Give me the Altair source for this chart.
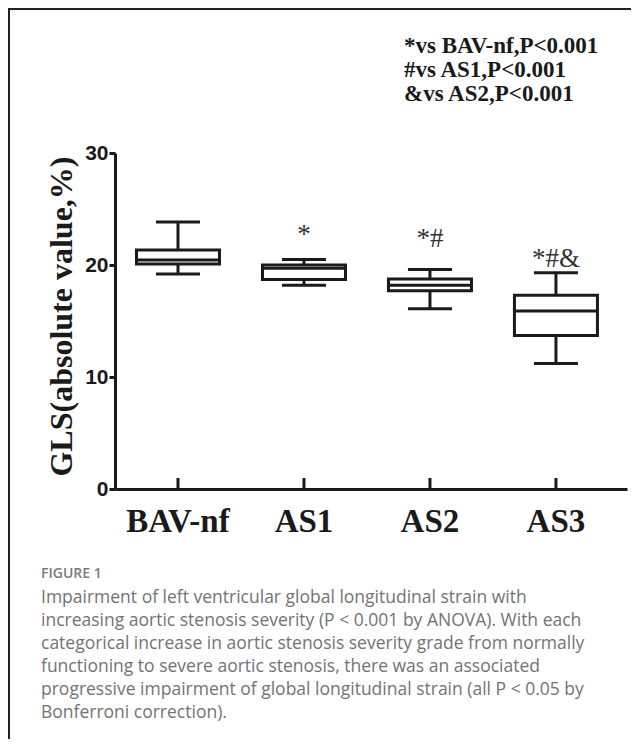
import altair as alt
import pandas as pd

# ---- data ----
categories = ["BAV-nf", "AS1", "AS2", "AS3"]
whisker_low = [19.2, 18.2, 16.1, 11.2]
q1 = [20.1, 18.7, 17.7, 13.7]
median = [20.45, 19.7, 18.2, 15.9]
q3 = [21.35, 20.0, 18.75, 17.3]
whisker_high = [23.85, 20.5, 19.6, 19.3]

annotation_groups = ["AS1", "AS2", "AS3"]
annotation_labels = ["*", "*#", "*#&"]
annotation_y = [22.0, 21.6, 19.8]

y_ticks = [0, 10, 20, 30]

legend_lines = ["*vs BAV-nf,P<0.001", "#vs AS1,P<0.001", "&vs AS2,P<0.001"]

figure_label = "FIGURE 1"
caption_lines = [
    "Impairment of left ventricular global longitudinal strain with",
    "increasing aortic stenosis severity (P < 0.001 by ANOVA). With each",
    "categorical increase in aortic stenosis severity grade from normally",
    "functioning to severe aortic stenosis, there was an associated",
    "progressive impairment of global longitudinal strain (all P < 0.05 by",
    "Bonferroni correction).",
]

box_df = pd.DataFrame({
    "group": categories,
    "low": whisker_low,
    "q1": q1,
    "median": median,
    "q3": q3,
    "high": whisker_high,
})
ann_df = pd.DataFrame({"group": annotation_groups, "label": annotation_labels, "y": annotation_y})

W, H = 512, 336

x_enc = alt.X(
    "group:N",
    sort=categories,
    scale=alt.Scale(type="band", paddingInner=0, paddingOuter=0.032, align=0),
    axis=alt.Axis(
        title=None, labelAngle=0, ticks=False, grid=False,
        domainWidth=3, domainColor="#1a1a1a",
        labelFont="Liberation Serif", labelFontWeight="bold", labelFontSize=33,
        labelColor="#1a1a1a", labelPadding=16,
    ),
)

y_scale = alt.Scale(domain=[0, 30], nice=False, zero=True)
y_axis = alt.Axis(
    title="GLS(absolute value,%)", values=y_ticks, grid=False,
    domainWidth=3, domainColor="#1a1a1a",
    tickSize=6, tickWidth=3, tickColor="#1a1a1a",
    labelFont="Liberation Sans", labelFontWeight="bold", labelFontSize=21,
    labelColor="#1a1a1a", labelPadding=1, labelFlush=False,
    titleFont="Liberation Serif", titleFontWeight="bold", titleFontSize=32,
    titleColor="#1a1a1a", titleAngle=270, titleX=-54, titleY=163,
    titleAlign="center", titleBaseline="middle",
)


def Y(field):
    return alt.Y(field, scale=y_scale, axis=y_axis)


base = alt.Chart(box_df)

whisker = base.mark_rule(color="#1a1a1a", strokeWidth=3).encode(
    x=x_enc, y=Y("low:Q"), y2="high:Q"
)
box = base.mark_bar(size=83, fill="white", stroke="#1a1a1a", strokeWidth=3).encode(
    x=x_enc, y=Y("q1:Q"), y2="q3:Q"
)
med = base.mark_tick(size=83, thickness=3, color="#1a1a1a", opacity=1).encode(
    x=x_enc, y=Y("median:Q")
)
cap_hi = base.mark_tick(size=44, thickness=3, color="#1a1a1a", opacity=1).encode(
    x=x_enc, y=Y("high:Q")
)
cap_lo = base.mark_tick(size=44, thickness=3, color="#1a1a1a", opacity=1).encode(
    x=x_enc, y=Y("low:Q")
)
# inward x-axis ticks at each category
xticks = base.mark_rule(color="#1a1a1a", strokeWidth=3).encode(
    x=x_enc, y=alt.value(H), y2=alt.value(H - 11)
)

annots = alt.Chart(ann_df).mark_text(
    font="Liberation Serif", fontSize=27, color="#333333", baseline="alphabetic", align="center"
).encode(x=x_enc, y=Y("y:Q"), text="label:N")

layers = [whisker, box, med, cap_hi, cap_lo, xticks, annots]

# significance legend (top right)
for i, line in enumerate(legend_lines):
    layers.append(
        alt.Chart(pd.DataFrame({"t": [line]})).mark_text(
            font="Liberation Serif", fontWeight="bold", fontSize=23, color="#1a1a1a",
            align="left", baseline="middle",
        ).encode(x=alt.value(289), y=alt.value(-107 + 24 * i), text="t:N")
    )

# caption
layers.append(
    alt.Chart(pd.DataFrame({"t": [figure_label]})).mark_text(
        font="Open Sans", fontWeight=600, fontSize=14, color="#7a7a7a",
        align="left", baseline="middle",
    ).encode(x=alt.value(-74), y=alt.value(421), text="t:N")
)
layers.append(
    alt.Chart(pd.DataFrame({"t": ["\n".join(caption_lines)]})).mark_text(
        font="Open Sans", fontSize=17.5, color="#737373", align="left", baseline="middle",
        lineBreak="\n", lineHeight=23,
    ).encode(x=alt.value(-74), y=alt.value(445), text="t:N")
)

# panel frame (top and left edges)
layers.append(
    alt.Chart(pd.DataFrame({"a": [0]})).mark_rule(color="#222222", strokeWidth=2).encode(
        x=alt.value(-106), y=alt.value(-145), y2=alt.value(600)
    )
)
layers.append(
    alt.Chart(pd.DataFrame({"a": [0]})).mark_rule(color="#222222", strokeWidth=2).encode(
        x=alt.value(-107), x2=alt.value(520), y=alt.value(-144)
    )
)

chart = alt.layer(*layers).properties(
    width=W, height=H,
    padding={"left": 107, "top": 145, "right": 4, "bottom": 250},
    autosize=alt.AutoSizeParams(type="none"),
    background="white",
).configure_view(stroke=None)

chart.save("out.html", embed_options={"renderer": "svg", "actions": False})
